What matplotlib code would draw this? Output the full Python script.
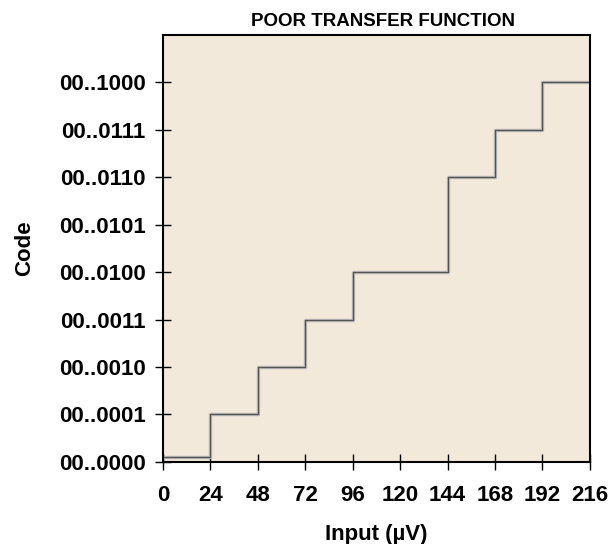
import matplotlib.pyplot as plt

# transfer function data
x_edges = [0, 24, 48, 72, 96, 144, 168, 192, 216]
codes = [0.1, 1, 2, 3, 4, 6, 7, 8, 8]
code_labels = ['00..0000', '00..0001', '00..0010', '00..0011', '00..0100',
               '00..0101', '00..0110', '00..0111', '00..1000']
x_ticks = [0, 24, 48, 72, 96, 120, 144, 168, 192, 216]

plt.rcParams['font.family'] = ['Liberation Sans', 'DejaVu Sans']

fig = plt.figure(figsize=(6.1, 5.44), dpi=100)
ax = fig.add_axes([0.267, 0.151, 0.700, 0.785])
ax.set_facecolor('#f3e9db')

ax.step(x_edges, codes, where='post', color='#b8b8b8', linewidth=2.4)
ax.step(x_edges, codes, where='post', color='#555555', linewidth=0.9)

ax.set_xlim(0, 216)
ax.set_ylim(0, 9)
ax.set_xticks(x_ticks)
ax.set_xticklabels([str(t) for t in x_ticks], fontsize=16, fontweight='bold')
ax.set_yticks(range(len(code_labels)))
ax.set_yticklabels(code_labels, fontsize=16, fontweight='bold')
ax.tick_params(direction='inout', length=11, width=1)
ax.tick_params(axis='y', pad=7)
ax.tick_params(axis='x', pad=11)

for s in ax.spines.values():
    s.set_linewidth(1.5)

ax.set_title('POOR TRANSFER FUNCTION', fontsize=13.5, fontweight='bold', pad=6, x=0.515)
ax.set_xlabel('Input (µV)', fontsize=16, fontweight='bold', labelpad=13)
ax.set_ylabel('Code', fontsize=16, fontweight='bold', labelpad=17)

fig.savefig('out.png', dpi=100)
